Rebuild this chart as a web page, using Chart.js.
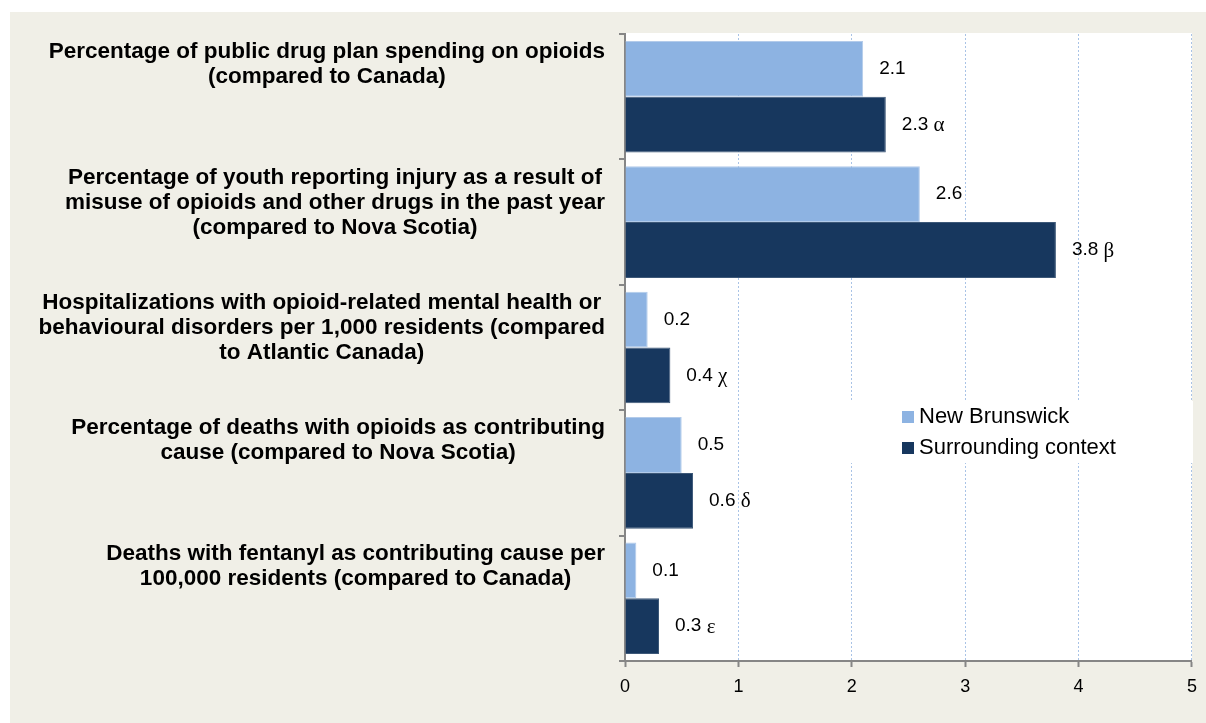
<!DOCTYPE html>
<html>
<head>
<meta charset="utf-8">
<script src="https://cdn.jsdelivr.net/npm/chart.js@4/dist/chart.umd.min.js"></script>
<style>
  html, body { margin: 0; padding: 0; background: #ffffff; }
  #wrap { position: relative; width: 1206px; height: 723px; }
</style>
</head>
<body>
<div id="wrap"><canvas id="opioidChart" width="1206" height="723"></canvas></div>
<script>
'use strict';

// indicator labels, already wrapped into lines
var categories = [
  ['Percentage of public drug plan spending on opioids', '(compared to Canada)'],
  ['Percentage of youth reporting injury as a result of', 'misuse of opioids and other drugs in the past year', '(compared to Nova Scotia)'],
  ['Hospitalizations with opioid-related mental health or', 'behavioural disorders per 1,000 residents (compared', 'to Atlantic Canada)'],
  ['Percentage of deaths with opioids as contributing', 'cause (compared to Nova Scotia)'],
  ['Deaths with fentanyl as contributing cause per', '100,000 residents (compared to Canada)']
];

var newBrunswick = [2.1, 2.6, 0.2, 0.5, 0.1];
var surrounding = [2.3, 3.8, 0.4, 0.6, 0.3];
// footnote letters shown after the comparison values
var surroundingNotes = ['\u03b1', '\u03b2', '\u03c7', '\u03b4', '\u03b5'];

var xTicks = [0, 1, 2, 3, 4, 5];

var LIGHT = '#8db3e2';
var DARK = '#17375e';
var AXIS_GREY = '#868686';
var SANS = '"Liberation Sans", Arial, sans-serif';
var SERIF = '"Liberation Serif", "Times New Roman", serif';

// beige panel behind everything, white plot area
var backdrop = {
  id: 'backdrop',
  beforeDraw: function(chart) {
    var ctx = chart.ctx;
    var area = chart.chartArea;
    ctx.save();
    ctx.fillStyle = '#f0efe7';
    ctx.fillRect(10, 12, chart.width - 10, chart.height - 12);
    ctx.fillStyle = '#ffffff';
    ctx.fillRect(area.left, area.top - 1, area.right - area.left, area.bottom - area.top + 1);
    ctx.restore();
  }
};

// wrapped category names, right aligned next to the axis, lines centred
var categoryLabels = {
  id: 'categoryLabels',
  afterDraw: function(chart) {
    var ctx = chart.ctx;
    var yScale = chart.scales.y;
    var right = chart.chartArea.left - 20;
    var lineHeight = 25;
    ctx.save();
    ctx.font = 'bold 22.5px ' + SANS;
    ctx.fillStyle = '#000000';
    ctx.textAlign = 'center';
    ctx.textBaseline = 'middle';
    categories.forEach(function(lines, i) {
      var widest = 0;
      lines.forEach(function(line) {
        widest = Math.max(widest, ctx.measureText(line).width);
      });
      var cx = right - widest / 2;
      var half = (yScale.getPixelForValue(1) - yScale.getPixelForValue(0)) / 2;
      var top = yScale.getPixelForValue(i) - half + 18;
      lines.forEach(function(line, j) {
        ctx.fillText(line, cx, top + j * lineHeight);
      });
    });
    ctx.restore();
  }
};

// values printed past the end of each bar
var valueLabels = {
  id: 'valueLabels',
  afterDatasetsDraw: function(chart) {
    var ctx = chart.ctx;
    ctx.save();
    ctx.fillStyle = '#000000';
    ctx.textAlign = 'left';
    ctx.textBaseline = 'middle';
    chart.data.datasets.forEach(function(ds, d) {
      chart.getDatasetMeta(d).data.forEach(function(bar, i) {
        var text = ds.data[i].toFixed(1);
        var x = bar.x + 16;
        ctx.font = '19px ' + SANS;
        ctx.fillText(text, x, bar.y);
        if (d === 1) {
          var w = ctx.measureText(text + ' ').width;
          ctx.font = '21px ' + SERIF;
          ctx.fillText(surroundingNotes[i], x + w, bar.y + 1);
        }
      });
    });
    ctx.restore();
  }
};

// legend sits inside the plot on a white patch
var insideLegend = {
  id: 'insideLegend',
  afterDatasetsDraw: function(chart) {
    var ctx = chart.ctx;
    var area = chart.chartArea;
    var left = area.left + 222;
    var top = area.top + 367;
    ctx.save();
    ctx.fillStyle = '#ffffff';
    ctx.fillRect(left, top, area.right - left + 1, 62);
    ctx.font = '22px ' + SANS;
    ctx.textAlign = 'left';
    ctx.textBaseline = 'middle';
    chart.data.datasets.forEach(function(ds, d) {
      var y = top + 16 + d * 31;
      ctx.fillStyle = ds.backgroundColor;
      ctx.fillRect(left + 55, y - 6, 12, 12);
      ctx.fillStyle = '#000000';
      ctx.fillText(ds.label, left + 72, y);
    });
    ctx.restore();
  }
};

var ctx = document.getElementById('opioidChart').getContext('2d');
var chart = new Chart(ctx, {
  type: 'bar',
  data: {
    labels: categories.map(function(c) { return c.join(' '); }),
    datasets: [
      {
        label: 'New Brunswick',
        data: newBrunswick,
        backgroundColor: LIGHT,
        borderColor: '#b3cbea',
        borderWidth: 1,
        categoryPercentage: 0.89,
        barPercentage: 1.0
      },
      {
        label: 'Surrounding context',
        data: surrounding,
        backgroundColor: DARK,
        borderColor: '#3d5878',
        borderWidth: 1,
        categoryPercentage: 0.89,
        barPercentage: 1.0
      }
    ]
  },
  options: {
    indexAxis: 'y',
    responsive: false,
    animation: false,
    layout: { padding: { left: 619, top: 34, right: 13, bottom: 0 } },
    plugins: {
      legend: { display: false },
      tooltip: { enabled: false }
    },
    scales: {
      x: {
        min: 0,
        max: 5,
        afterBuildTicks: function(scale) {
          scale.ticks = xTicks.map(function(v) { return { value: v }; });
        },
        afterFit: function(scale) { scale.height = 62; },
        // in v4 the border dash also applies to the grid lines
        border: { color: AXIS_GREY, width: 2, dash: [2, 2] },
        grid: {
          color: '#a9c3e6',
          lineWidth: 1,
          tickLength: 6,
          tickColor: AXIS_GREY,
          tickBorderDash: [],
          tickWidth: 2
        },
        ticks: {
          padding: 9,
          color: '#000000',
          font: { family: SANS, size: 18 }
        }
      },
      y: {
        afterFit: function(scale) { scale.width = 6; },
        border: { color: AXIS_GREY, width: 2 },
        grid: {
          drawOnChartArea: false,
          tickLength: 6,
          color: AXIS_GREY,
          lineWidth: 2
        },
        ticks: { display: false }
      }
    }
  },
  plugins: [backdrop, categoryLabels, valueLabels, insideLegend]
});
</script>
</body>
</html>
